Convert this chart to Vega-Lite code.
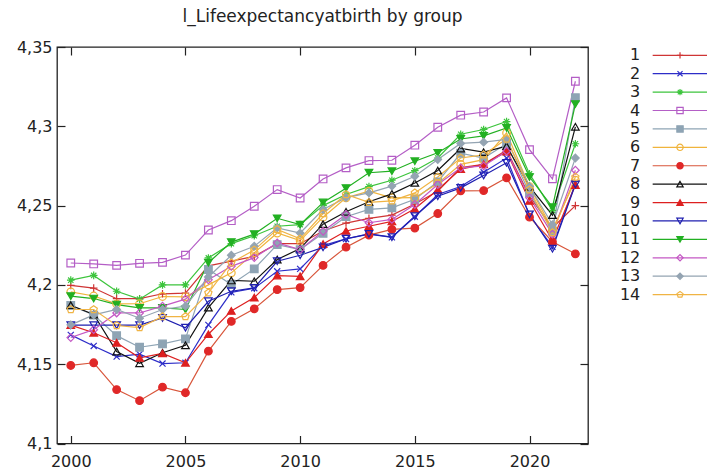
{
  "$schema": "https://vega.github.io/schema/vega-lite/v6.json",
  "background": "white",
  "padding": {"left": 15, "top": 7, "right": 0, "bottom": 0},
  "autosize": {"type": "pad"},
  "spacing": 12,
  "config": {"font": "DejaVu Sans", "view": {"stroke": null}},
  "datasets": {
    "series": [
      {"group":1,"year":2000,"value":4.1997},{"group":1,"year":2001,"value":4.198},{"group":1,"year":2002,"value":4.1913},{"group":1,"year":2003,"value":4.1913},{"group":1,"year":2004,"value":4.1944},{"group":1,"year":2005,"value":4.1948},{"group":1,"year":2006,"value":4.212},{"group":1,"year":2007,"value":4.215},{"group":1,"year":2008,"value":4.218},{"group":1,"year":2009,"value":4.226},{"group":1,"year":2010,"value":4.226},{"group":1,"year":2011,"value":4.234},{"group":1,"year":2012,"value":4.239},{"group":1,"year":2013,"value":4.242},{"group":1,"year":2014,"value":4.244},{"group":1,"year":2015,"value":4.251},{"group":1,"year":2016,"value":4.259},{"group":1,"year":2017,"value":4.274},{"group":1,"year":2018,"value":4.276},{"group":1,"year":2019,"value":4.285},{"group":1,"year":2020,"value":4.256},{"group":1,"year":2021,"value":4.236},{"group":1,"year":2022,"value":4.25},
      {"group":2,"year":2000,"value":4.1685},{"group":2,"year":2001,"value":4.1615},{"group":2,"year":2002,"value":4.1548},{"group":2,"year":2003,"value":4.1563},{"group":2,"year":2004,"value":4.1504},{"group":2,"year":2005,"value":4.1509},{"group":2,"year":2006,"value":4.1748},{"group":2,"year":2007,"value":4.1953},{"group":2,"year":2008,"value":4.1979},{"group":2,"year":2009,"value":4.2086},{"group":2,"year":2010,"value":4.2101},{"group":2,"year":2011,"value":4.2248},{"group":2,"year":2012,"value":4.229},{"group":2,"year":2013,"value":4.232},{"group":2,"year":2014,"value":4.23},{"group":2,"year":2015,"value":4.243},{"group":2,"year":2016,"value":4.257},{"group":2,"year":2017,"value":4.262},{"group":2,"year":2018,"value":4.271},{"group":2,"year":2019,"value":4.28},{"group":2,"year":2020,"value":4.244},{"group":2,"year":2021,"value":4.224},{"group":2,"year":2022,"value":4.264},
      {"group":3,"year":2000,"value":4.203},{"group":3,"year":2001,"value":4.206},{"group":3,"year":2002,"value":4.196},{"group":3,"year":2003,"value":4.191},{"group":3,"year":2004,"value":4.2},{"group":3,"year":2005,"value":4.2},{"group":3,"year":2006,"value":4.217},{"group":3,"year":2007,"value":4.226},{"group":3,"year":2008,"value":4.231},{"group":3,"year":2009,"value":4.237},{"group":3,"year":2010,"value":4.238},{"group":3,"year":2011,"value":4.25},{"group":3,"year":2012,"value":4.257},{"group":3,"year":2013,"value":4.262},{"group":3,"year":2014,"value":4.266},{"group":3,"year":2015,"value":4.272},{"group":3,"year":2016,"value":4.28},{"group":3,"year":2017,"value":4.295},{"group":3,"year":2018,"value":4.298},{"group":3,"year":2019,"value":4.303},{"group":3,"year":2020,"value":4.27},{"group":3,"year":2021,"value":4.247},{"group":3,"year":2022,"value":4.289},
      {"group":4,"year":2000,"value":4.2138},{"group":4,"year":2001,"value":4.2132},{"group":4,"year":2002,"value":4.2123},{"group":4,"year":2003,"value":4.2136},{"group":4,"year":2004,"value":4.2142},{"group":4,"year":2005,"value":4.2188},{"group":4,"year":2006,"value":4.2346},{"group":4,"year":2007,"value":4.2405},{"group":4,"year":2008,"value":4.2496},{"group":4,"year":2009,"value":4.2601},{"group":4,"year":2010,"value":4.2548},{"group":4,"year":2011,"value":4.2668},{"group":4,"year":2012,"value":4.2738},{"group":4,"year":2013,"value":4.2784},{"group":4,"year":2014,"value":4.2786},{"group":4,"year":2015,"value":4.2881},{"group":4,"year":2016,"value":4.2994},{"group":4,"year":2017,"value":4.307},{"group":4,"year":2018,"value":4.309},{"group":4,"year":2019,"value":4.3179},{"group":4,"year":2020,"value":4.2853},{"group":4,"year":2021,"value":4.2669},{"group":4,"year":2022,"value":4.3284},
      {"group":5,"year":2000,"value":4.187},{"group":5,"year":2001,"value":4.181},{"group":5,"year":2002,"value":4.168},{"group":5,"year":2003,"value":4.1607},{"group":5,"year":2004,"value":4.1628},{"group":5,"year":2005,"value":4.166},{"group":5,"year":2006,"value":4.2097},{"group":5,"year":2007,"value":4.2002},{"group":5,"year":2008,"value":4.2101},{"group":5,"year":2009,"value":4.2254},{"group":5,"year":2010,"value":4.2222},{"group":5,"year":2011,"value":4.2325},{"group":5,"year":2012,"value":4.243},{"group":5,"year":2013,"value":4.2476},{"group":5,"year":2014,"value":4.2486},{"group":5,"year":2015,"value":4.254},{"group":5,"year":2016,"value":4.265},{"group":5,"year":2017,"value":4.283},{"group":5,"year":2018,"value":4.28},{"group":5,"year":2019,"value":4.289},{"group":5,"year":2020,"value":4.258},{"group":5,"year":2021,"value":4.234},{"group":5,"year":2022,"value":4.318},
      {"group":6,"year":2000,"value":4.1956},{"group":6,"year":2001,"value":4.193},{"group":6,"year":2002,"value":4.188},{"group":6,"year":2003,"value":4.1881},{"group":6,"year":2004,"value":4.1927},{"group":6,"year":2005,"value":4.1925},{"group":6,"year":2006,"value":4.2},{"group":6,"year":2007,"value":4.2076},{"group":6,"year":2008,"value":4.2202},{"group":6,"year":2009,"value":4.2327},{"group":6,"year":2010,"value":4.2279},{"group":6,"year":2011,"value":4.2427},{"group":6,"year":2012,"value":4.2549},{"group":6,"year":2013,"value":4.2591},{"group":6,"year":2014,"value":4.2549},{"group":6,"year":2015,"value":4.255},{"group":6,"year":2016,"value":4.264},{"group":6,"year":2017,"value":4.276},{"group":6,"year":2018,"value":4.279},{"group":6,"year":2019,"value":4.2958},{"group":6,"year":2020,"value":4.262},{"group":6,"year":2021,"value":4.235},{"group":6,"year":2022,"value":4.266},
      {"group":7,"year":2000,"value":4.1492},{"group":7,"year":2001,"value":4.1509},{"group":7,"year":2002,"value":4.134},{"group":7,"year":2003,"value":4.127},{"group":7,"year":2004,"value":4.1355},{"group":7,"year":2005,"value":4.132},{"group":7,"year":2006,"value":4.1582},{"group":7,"year":2007,"value":4.177},{"group":7,"year":2008,"value":4.1849},{"group":7,"year":2009,"value":4.197},{"group":7,"year":2010,"value":4.1983},{"group":7,"year":2011,"value":4.2123},{"group":7,"year":2012,"value":4.2238},{"group":7,"year":2013,"value":4.2314},{"group":7,"year":2014,"value":4.235},{"group":7,"year":2015,"value":4.2358},{"group":7,"year":2016,"value":4.245},{"group":7,"year":2017,"value":4.2593},{"group":7,"year":2018,"value":4.2595},{"group":7,"year":2019,"value":4.2675},{"group":7,"year":2020,"value":4.2427},{"group":7,"year":2021,"value":4.2272},{"group":7,"year":2022,"value":4.2196},
      {"group":8,"year":2000,"value":4.1872},{"group":8,"year":2001,"value":4.1813},{"group":8,"year":2002,"value":4.158},{"group":8,"year":2003,"value":4.1506},{"group":8,"year":2004,"value":4.1572},{"group":8,"year":2005,"value":4.1619},{"group":8,"year":2006,"value":4.1857},{"group":8,"year":2007,"value":4.2028},{"group":8,"year":2008,"value":4.2023},{"group":8,"year":2009,"value":4.216},{"group":8,"year":2010,"value":4.2229},{"group":8,"year":2011,"value":4.2383},{"group":8,"year":2012,"value":4.2461},{"group":8,"year":2013,"value":4.2524},{"group":8,"year":2014,"value":4.2574},{"group":8,"year":2015,"value":4.2643},{"group":8,"year":2016,"value":4.2721},{"group":8,"year":2017,"value":4.286},{"group":8,"year":2018,"value":4.2837},{"group":8,"year":2019,"value":4.2875},{"group":8,"year":2020,"value":4.262},{"group":8,"year":2021,"value":4.244},{"group":8,"year":2022,"value":4.2997},
      {"group":9,"year":2000,"value":4.1746},{"group":9,"year":2001,"value":4.1698},{"group":9,"year":2002,"value":4.1635},{"group":9,"year":2003,"value":4.154},{"group":9,"year":2004,"value":4.1568},{"group":9,"year":2005,"value":4.1509},{"group":9,"year":2006,"value":4.1689},{"group":9,"year":2007,"value":4.1836},{"group":9,"year":2008,"value":4.192},{"group":9,"year":2009,"value":4.2059},{"group":9,"year":2010,"value":4.2054},{"group":9,"year":2011,"value":4.2258},{"group":9,"year":2012,"value":4.234},{"group":9,"year":2013,"value":4.237},{"group":9,"year":2014,"value":4.24},{"group":9,"year":2015,"value":4.248},{"group":9,"year":2016,"value":4.26},{"group":9,"year":2017,"value":4.273},{"group":9,"year":2018,"value":4.276},{"group":9,"year":2019,"value":4.284},{"group":9,"year":2020,"value":4.253},{"group":9,"year":2021,"value":4.228},{"group":9,"year":2022,"value":4.263},
      {"group":10,"year":2000,"value":4.1746},{"group":10,"year":2001,"value":4.1746},{"group":10,"year":2002,"value":4.1746},{"group":10,"year":2003,"value":4.1746},{"group":10,"year":2004,"value":4.1792},{"group":10,"year":2005,"value":4.173},{"group":10,"year":2006,"value":4.1897},{"group":10,"year":2007,"value":4.196},{"group":10,"year":2008,"value":4.1981},{"group":10,"year":2009,"value":4.2149},{"group":10,"year":2010,"value":4.2187},{"group":10,"year":2011,"value":4.2237},{"group":10,"year":2012,"value":4.2291},{"group":10,"year":2013,"value":4.2322},{"group":10,"year":2014,"value":4.2301},{"group":10,"year":2015,"value":4.2433},{"group":10,"year":2016,"value":4.2559},{"group":10,"year":2017,"value":4.2612},{"group":10,"year":2018,"value":4.269},{"group":10,"year":2019,"value":4.277},{"group":10,"year":2020,"value":4.2444},{"group":10,"year":2021,"value":4.2228},{"group":10,"year":2022,"value":4.2633},
      {"group":11,"year":2000,"value":4.1929},{"group":11,"year":2001,"value":4.1914},{"group":11,"year":2002,"value":4.1876},{"group":11,"year":2003,"value":4.1855},{"group":11,"year":2004,"value":4.1855},{"group":11,"year":2005,"value":4.1845},{"group":11,"year":2006,"value":4.214},{"group":11,"year":2007,"value":4.227},{"group":11,"year":2008,"value":4.232},{"group":11,"year":2009,"value":4.242},{"group":11,"year":2010,"value":4.238},{"group":11,"year":2011,"value":4.252},{"group":11,"year":2012,"value":4.261},{"group":11,"year":2013,"value":4.2707},{"group":11,"year":2014,"value":4.2717},{"group":11,"year":2015,"value":4.278},{"group":11,"year":2016,"value":4.2833},{"group":11,"year":2017,"value":4.292},{"group":11,"year":2018,"value":4.294},{"group":11,"year":2019,"value":4.299},{"group":11,"year":2020,"value":4.268},{"group":11,"year":2021,"value":4.249},{"group":11,"year":2022,"value":4.314},
      {"group":12,"year":2000,"value":4.1668},{"group":12,"year":2001,"value":4.1718},{"group":12,"year":2002,"value":4.1823},{"group":12,"year":2003,"value":4.1823},{"group":12,"year":2004,"value":4.1866},{"group":12,"year":2005,"value":4.191},{"group":12,"year":2006,"value":4.2032},{"group":12,"year":2007,"value":4.2117},{"group":12,"year":2008,"value":4.2172},{"group":12,"year":2009,"value":4.2265},{"group":12,"year":2010,"value":4.2222},{"group":12,"year":2011,"value":4.2338},{"group":12,"year":2012,"value":4.2444},{"group":12,"year":2013,"value":4.2392},{"group":12,"year":2014,"value":4.2413},{"group":12,"year":2015,"value":4.2507},{"group":12,"year":2016,"value":4.2633},{"group":12,"year":2017,"value":4.2738},{"group":12,"year":2018,"value":4.275},{"group":12,"year":2019,"value":4.2843},{"group":12,"year":2020,"value":4.255},{"group":12,"year":2021,"value":4.232},{"group":12,"year":2022,"value":4.2723},
      {"group":13,"year":2000,"value":4.1748},{"group":13,"year":2001,"value":4.1811},{"group":13,"year":2002,"value":4.1845},{"group":13,"year":2003,"value":4.179},{"group":13,"year":2004,"value":4.1845},{"group":13,"year":2005,"value":4.1866},{"group":13,"year":2006,"value":4.205},{"group":13,"year":2007,"value":4.2187},{"group":13,"year":2008,"value":4.2244},{"group":13,"year":2009,"value":4.236},{"group":13,"year":2010,"value":4.2327},{"group":13,"year":2011,"value":4.2475},{"group":13,"year":2012,"value":4.255},{"group":13,"year":2013,"value":4.258},{"group":13,"year":2014,"value":4.2623},{"group":13,"year":2015,"value":4.2685},{"group":13,"year":2016,"value":4.279},{"group":13,"year":2017,"value":4.2892},{"group":13,"year":2018,"value":4.29},{"group":13,"year":2019,"value":4.2917},{"group":13,"year":2020,"value":4.262},{"group":13,"year":2021,"value":4.238},{"group":13,"year":2022,"value":4.28},
      {"group":14,"year":2000,"value":4.1845},{"group":14,"year":2001,"value":4.1845},{"group":14,"year":2002,"value":4.1744},{"group":14,"year":2003,"value":4.1731},{"group":14,"year":2004,"value":4.18},{"group":14,"year":2005,"value":4.18},{"group":14,"year":2006,"value":4.195},{"group":14,"year":2007,"value":4.214},{"group":14,"year":2008,"value":4.222},{"group":14,"year":2009,"value":4.235},{"group":14,"year":2010,"value":4.229},{"group":14,"year":2011,"value":4.245},{"group":14,"year":2012,"value":4.257},{"group":14,"year":2013,"value":4.252},{"group":14,"year":2014,"value":4.253},{"group":14,"year":2015,"value":4.258},{"group":14,"year":2016,"value":4.268},{"group":14,"year":2017,"value":4.28},{"group":14,"year":2018,"value":4.282},{"group":14,"year":2019,"value":4.292},{"group":14,"year":2020,"value":4.26},{"group":14,"year":2021,"value":4.233},{"group":14,"year":2022,"value":4.268}
    ],
    "keys": [
      {"group":1},{"group":2},{"group":3},{"group":4},{"group":5},{"group":6},{"group":7},
      {"group":8},{"group":9},{"group":10},{"group":11},{"group":12},{"group":13},{"group":14}
    ]
  },
  "hconcat": [
    {
      "width": 531,
      "height": 396.5,
      "title": {"text": "l_Lifeexpectancyatbirth by group", "fontSize": 17, "fontWeight": "normal", "color": "#222", "offset": 13, "anchor": "middle"},
      "view": {"stroke": "#222", "strokeWidth": 1.3},
      "data": {"name": "series"},
      "resolve": {"axis": {"x": "independent", "y": "independent"}},
      "layer": [
        {
          "mark": {"type": "line", "strokeWidth": 1.2},
          "encoding": {
            "x": {"field": "year", "type": "quantitative", "scale": {"domain": [1999.4, 2022.55], "nice": false, "zero": false},
                  "axis": {"orient": "bottom", "values": [2000, 2005, 2010, 2015, 2020], "format": "d", "title": null, "grid": false, "domain": false,
                           "tickSize": -8, "tickColor": "#222", "tickWidth": 1.2, "labelFontSize": 16, "labelColor": "#222", "labelPadding": 18, "labelFlush": false}},
            "y": {"field": "value", "type": "quantitative", "scale": {"domain": [4.1, 4.35], "nice": false, "zero": false},
                  "axis": {"orient": "left", "values": [4.1, 4.15, 4.2, 4.25, 4.3, 4.35], "labelExpr": "replace(format(datum.value, '.2~f'), '.', ',')", "title": null, "grid": false, "domain": false,
                           "tickSize": -8, "tickColor": "#222", "tickWidth": 1.2, "labelFontSize": 16, "labelColor": "#222", "labelPadding": 13, "labelFlush": false}},
            "color": {"field": "group", "type": "nominal", "legend": null,
                      "scale": {"domain": [1,2,3,4,5,6,7,8,9,10,11,12,13,14],
                                "range": ["#cf3535","#2d2dc8","#3cc43c","#b45ec6","#8ea4b4","#f0b43c","#d8553a","#111111","#dd2020","#1f1fb0","#22b022","#c458c4","#94a4b2","#f0b444"]}},
            "order": {"field": "year", "type": "quantitative"}
          }
        },
        {
          "mark": {"type": "point", "size": 58, "strokeWidth": 1.2, "opacity": 1},
          "encoding": {
            "x": {"field": "year", "type": "quantitative",
                  "axis": {"orient": "top", "values": [2000, 2005, 2010, 2015, 2020], "labels": false, "title": null, "grid": false, "domain": false, "tickSize": -8, "tickColor": "#222", "tickWidth": 1.2}},
            "y": {"field": "value", "type": "quantitative",
                  "axis": {"orient": "right", "values": [4.1, 4.15, 4.2, 4.25, 4.3, 4.35], "labels": false, "title": null, "grid": false, "domain": false, "tickSize": -8, "tickColor": "#222", "tickWidth": 1.2}},
            "shape": {"field": "group", "type": "nominal", "legend": null,
                      "scale": {"domain": [1,2,3,4,5,6,7,8,9,10,11,12,13,14],
                                "range": ["M-1,0H1M0,-1V1", "M-0.8,-0.8L0.8,0.8M-0.8,0.8L0.8,-0.8", "M-1,0H1M0,-1V1M-0.7,-0.7L0.7,0.7M-0.7,0.7L0.7,-0.7",
                                          "square", "square", "circle", "circle", "triangle-up", "triangle-up", "triangle-down", "triangle-down", "diamond", "diamond",
                                          "M0,-1L0.951,-0.309L0.588,0.809L-0.588,0.809L-0.951,-0.309Z"]}},
            "stroke": {"field": "group", "type": "nominal", "legend": null,
                       "scale": {"domain": [1,2,3,4,5,6,7,8,9,10,11,12,13,14],
                                 "range": ["#cf3535","#2d2dc8","#3cc43c","#b45ec6","#8ea4b4","#f0b43c","#e02828","#111111","#dd2020","#1f1fb0","#22b022","#c458c4","#94a4b2","#f0b444"]}},
            "fill": {"field": "group", "type": "nominal", "legend": null,
                     "scale": {"domain": [1,2,3,4,5,6,7,8,9,10,11,12,13,14],
                               "range": ["transparent","transparent","transparent","transparent","#8ea4b4","transparent","#e02828","transparent","#dd2020","transparent","#22b022","transparent","#94a4b2","transparent"]}}
          }
        }
      ]
    },
    {
      "width": 106,
      "height": 396.5,
      "data": {"name": "keys"},
      "view": {"stroke": null},
      "encoding": {
        "y": {"field": "group", "type": "quantitative", "scale": {"domain": [0.549, 22.09], "reverse": true, "nice": false, "zero": false}, "axis": null}
      },
      "layer": [
        {
          "mark": {"type": "rule", "strokeWidth": 1.2},
          "encoding": {
            "x": {"datum": 0.478, "type": "quantitative", "scale": {"domain": [0, 1], "nice": false, "zero": false}, "axis": null},
            "x2": {"datum": 1},
            "color": {"field": "group", "type": "nominal", "legend": null}
          }
        },
        {
          "mark": {"type": "point", "size": 40, "strokeWidth": 1.2, "opacity": 1},
          "encoding": {
            "x": {"datum": 0.736, "type": "quantitative"},
            "shape": {"field": "group", "type": "nominal", "legend": null},
            "stroke": {"field": "group", "type": "nominal", "legend": null},
            "fill": {"field": "group", "type": "nominal", "legend": null}
          }
        },
        {
          "mark": {"type": "text", "align": "right", "baseline": "middle", "fontSize": 16, "color": "#222"},
          "encoding": {
            "x": {"datum": 0.361, "type": "quantitative"},
            "text": {"field": "group", "type": "nominal"}
          }
        }
      ]
    }
  ]
}
